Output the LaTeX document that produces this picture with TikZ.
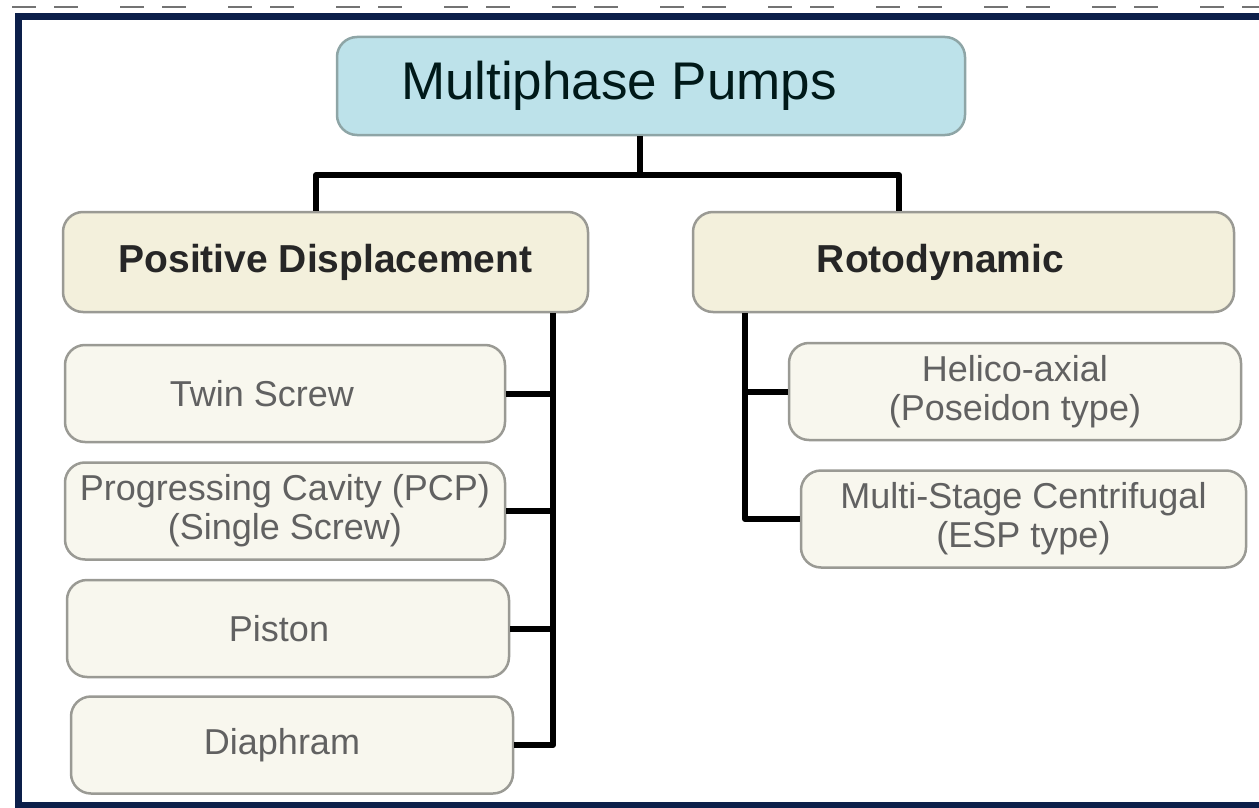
\documentclass[tikz,border=0pt]{standalone}
\usepackage{fontspec}
\setmainfont{Liberation Sans}
\usepackage{tikz}
\usepackage{xcolor}

\definecolor{navy}{HTML}{0C1F4A}
\definecolor{rootfill}{HTML}{BDE2EA}
\definecolor{rootline}{HTML}{8EA5A6}
\definecolor{typefill}{HTML}{F3F0DC}
\definecolor{leaffill}{HTML}{F8F7EE}
\definecolor{boxline}{HTML}{9A9A94}

\tikzset{
  rootbox/.style={draw=rootline, fill=rootfill, line width=2.5pt, rounded corners=20pt,
    minimum width=628pt, minimum height=98pt, text=black!80!teal,
    font=\fontsize{53}{60}\selectfont},
  typebox/.style={draw=boxline, fill=typefill, line width=2.5pt, rounded corners=20pt,
    minimum height=100pt, text=black!85, font=\fontsize{39}{44}\selectfont\bfseries},
  leafbox/.style={draw=boxline, fill=leaffill, line width=2.5pt, rounded corners=20pt,
    minimum height=97pt, align=center, text=black!62,
    font=\fontsize{36}{39}\selectfont},
  tshift/.style={execute at begin node={\hspace*{-#1}}},
  link/.style={line width=6pt, black, line join=round}
}

\begin{document}
\begin{tikzpicture}[x=1pt,y=-1pt]
    \useasboundingbox (0,0) rectangle (1259,808);
    % page edge and frame
    \draw[black!55, line width=2pt, dash pattern=on 24pt off 18pt on 24pt off 42pt] (12,7) -- (1259,7);
    \draw[navy, line width=7pt] (1270,17) -- (18,17) -- (18,805) -- (1270,805);
    % boxes
    \node[rootbox, tshift=64pt] (root) at (651,86) {Multiphase Pumps};
    \node[typebox, minimum width=525pt] (pd) at (325.5,262) {Positive Displacement};
    \node[typebox, minimum width=541pt, tshift=46pt] (roto) at (963.5,262) {Rotodynamic};
    \node[leafbox, minimum width=440pt, tshift=46pt] (twin) at (285,393.5) {Twin Screw};
    \node[leafbox, minimum width=440pt] (pcp) at (285,511) {Progressing Cavity (PCP)\\(Single Screw)};
    \node[leafbox, minimum width=442pt, tshift=18pt] (piston) at (288,628.5) {Piston};
    \node[leafbox, minimum width=442pt, tshift=20pt] (diaph) at (292,745) {Diaphram};
    \node[leafbox, minimum width=452pt] (helico) at (1015,391.5) {Helico-axial\\(Poseidon type)};
    \node[leafbox, minimum width=445pt] (multi) at (1023.5,519) {Multi-Stage Centrifugal\\(ESP type)};
    % connectors
    \coordinate (hub) at (640,175);
    \coordinate (lft) at (316,175);
    \coordinate (rgt) at (899,175);
    \coordinate (lt) at (553,300);
    \coordinate (rt) at (745,300);
    \draw[link] (hub |- root.south) -- (hub);
    \draw[link] (lft |- pd.north) -- (lft) -- (rgt) -- (rgt |- roto.north);
    \draw[link] (lt |- pd.south) |- (diaph.east);
    \foreach \n in {twin,pcp,piston}
        \draw[link] (\n.east) -- (\n.east -| lt);
    \draw[link] (rt |- roto.south) |- (multi.west);
    \draw[link] (helico.west) -- (helico.west -| rt);
\end{tikzpicture}
\end{document}
